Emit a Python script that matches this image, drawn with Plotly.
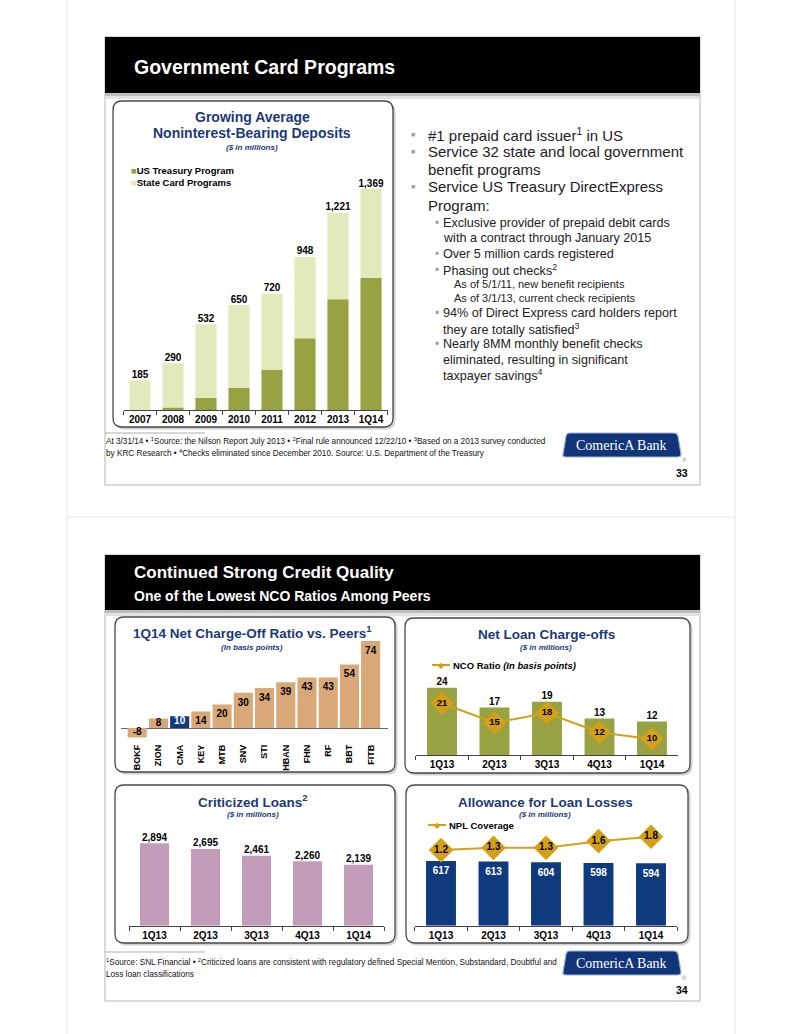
import plotly.graph_objects as go

W, H = 799, 1034
FONT = "Arial, 'Liberation Sans', Helvetica, sans-serif"
SERIF = "'Times New Roman', 'Liberation Serif', serif"
NAVY = "#0F3A7D"
TITLE = "#1B3A7A"
OLIVE = "#98A243"
PALE = "#E2E9BA"
TAN = "#D9A878"
MAUVE = "#C39CBA"
GOLD = "#D4A017"

# ---------------- data ----------------
dep_years = ["2007", "2008", "2009", "2010", "2011", "2012", "2013", "1Q14"]
dep_total = [185, 290, 532, 650, 720, 948, 1221, 1369]
dep_treasury = [0, 15, 76, 138, 248, 444, 686, 820]
dep_state = [185, 275, 456, 512, 472, 504, 535, 549]

peers = ["BOKF", "ZION", "CMA", "KEY", "MTB", "SNV", "STI", "HBAN", "FHN", "RF", "BBT", "FITB"]
peer_nco = [-8, 8, 10, 14, 20, 30, 34, 39, 43, 43, 54, 74]

quarters = ["1Q13", "2Q13", "3Q13", "4Q13", "1Q14"]
nco_dollars = [24, 17, 19, 13, 12]
nco_ratio = [21, 15, 18, 12, 10]
criticized = [2894, 2695, 2461, 2260, 2139]
allowance = [617, 613, 604, 598, 594]
npl_coverage = [1.2, 1.3, 1.3, 1.6, 1.8]


def X(px):
    return px / W


def Y(py):
    return 1 - py / H


shapes = []
annotations = []


def rect(x0, y0, x1, y1, fill, line=None, lw=0, layer="below"):
    shapes.append(dict(type="rect", xref="paper", yref="paper", x0=X(x0), x1=X(x1),
                       y0=Y(y1), y1=Y(y0), fillcolor=fill,
                       line=dict(color=line or fill, width=lw), layer=layer))


def hline(x0, y0, x1, y1, color, w=1, layer="below"):
    shapes.append(dict(type="line", xref="paper", yref="paper", x0=X(x0), x1=X(x1),
                       y0=Y(y0), y1=Y(y1), line=dict(color=color, width=w), layer=layer))


def rrect(x0, y0, x1, y1, r, fill, line, lw, layer="below"):
    def p(x, y):
        return f"{X(x):.5f},{Y(y):.5f}"
    path = (f"M {p(x0 + r, y0)} L {p(x1 - r, y0)} Q {p(x1, y0)} {p(x1, y0 + r)} "
            f"L {p(x1, y1 - r)} Q {p(x1, y1)} {p(x1 - r, y1)} L {p(x0 + r, y1)} "
            f"Q {p(x0, y1)} {p(x0, y1 - r)} L {p(x0, y0 + r)} Q {p(x0, y0)} {p(x0 + r, y0)} Z")
    shapes.append(dict(type="path", xref="paper", yref="paper", path=path, fillcolor=fill,
                       line=dict(color=line, width=lw), layer=layer))


def text(x, y, s, size, color="#000", weight="normal", style="normal", xanchor="left", family=FONT):
    annotations.append(dict(xref="paper", yref="paper", x=X(x), y=Y(y), text=s, showarrow=False,
                            xanchor=xanchor, yanchor="middle", borderpad=0,
                            font=dict(family=family, size=size, color=color, weight=weight, style=style)))


def panel(x0, y0, x1, y1):
    rrect(x0 + 2, y0 + 2, x1 + 2, y1 + 2, 9, "#d0d0d0", "#d0d0d0", 1)
    rrect(x0, y0, x1, y1, 9, "white", "#4a4a4a", 1.3)


def logo(y0, y1, num_y, num):
    path = (f"M {X(569):.5f},{Y(y0):.5f} L {X(674):.5f},{Y(y0):.5f} "
            f"Q {X(677):.5f},{Y(y0):.5f} {X(678):.5f},{Y(y0 + 3):.5f} L {X(681):.5f},{Y(y1 - 3):.5f} "
            f"Q {X(681):.5f},{Y(y1):.5f} {X(678):.5f},{Y(y1):.5f} L {X(566):.5f},{Y(y1):.5f} "
            f"Q {X(562):.5f},{Y(y1):.5f} {X(563):.5f},{Y(y1 - 3):.5f} L {X(566):.5f},{Y(y0 + 3):.5f} "
            f"Q {X(567):.5f},{Y(y0):.5f} {X(569):.5f},{Y(y0):.5f} Z")
    shapes.append(dict(type="path", xref="paper", yref="paper", path=path, fillcolor="#12357A",
                       line=dict(color="#9db3d8", width=1.2), layer="above"))
    text(621, (y0 + y1) / 2, "ComericA Bank", 14, "white", family=SERIF, xanchor="center")
    text(684, y1 + 3, "®", 6, "#888", xanchor="center")
    text(689, num_y, num, 10.5, "#000", weight="bold", xanchor="right")


# ---------------- page / slide backgrounds ----------------
hline(67, 0, 67, 1034, "#e4e4e4", 1)
hline(735, 0, 735, 1034, "#e4e4e4", 1)
hline(67, 517, 735, 517, "#e4e4e4", 1)

for (top, bot) in [(37, 485), (555, 1001)]:
    rect(105, top, 700, bot, "white", "#b5b5b5", 1)
hdr = [(37, 93), (555, 610)]
for (t, b) in hdr:
    rect(105, t, 700, b, "black")
    rect(105, b, 700, b + 3, "#bdbdbd")
    rect(105, b + 3, 700, b + 6, "#e2e2e2")

panel(113, 101, 393, 427)
panel(115, 617, 395, 772)
panel(405, 618, 690, 773)
panel(115, 785, 395, 943)
panel(406, 785, 688, 943)

hline(105, 433, 205, 433, "#999", 0.8)
hline(105, 952, 205, 952, "#999", 0.8)

# ---------------- texts ----------------
text(133, 67, "Government Card Programs", 19.5, "white", weight="bold")
text(133, 572, "Continued Strong Credit Quality", 17, "white", weight="bold")
text(133, 596, "One of the Lowest NCO Ratios Among Peers", 14, "white", weight="bold")

# chart 1 titles and legend
text(252, 117, "Growing Average", 14, TITLE, weight="bold", xanchor="center")
text(252, 133, "Noninterest-Bearing Deposits", 14, TITLE, weight="bold", xanchor="center")
text(252, 148, "($ in millions)", 8, TITLE, weight="bold", style="italic", xanchor="center")
text(130, 170, f"<span style='color:{OLIVE}'>■</span>US Treasury Program", 9.5, "#000", weight="bold")
text(130, 182, f"<span style='color:{PALE}'>■</span>State Card Programs", 9.5, "#000", weight="bold")

# bullets
BUL = "#222"
main_lines = [(135, "#1 prepaid card issuer<sup>1</sup> in US", True),
              (152, "Service 32 state and local government", True),
              (169, "benefit programs", False),
              (187, "Service US Treasury DirectExpress", True),
              (205, "Program:", False)]
for y, s, b in main_lines:
    if b:
        text(413, y, "■", 7, "#a0a0a0", xanchor="center")
    text(427, y, s, 15, BUL)
sub_lines = [(223, "Exclusive provider of prepaid debit cards", True),
             (238, "with a contract through January 2015", False),
             (254, "Over 5 million cards registered", True),
             (270, "Phasing out checks<sup>2</sup>", True),
             (313, "94% of Direct Express card holders report", True),
             (329, "they are totally satisfied<sup>3</sup>", False),
             (344, "Nearly 8MM monthly benefit checks", True),
             (360, "eliminated, resulting in significant", False),
             (375, "taxpayer savings<sup>4</sup>", False)]
for y, s, b in sub_lines:
    if b:
        text(437, y, "•", 12, "#a0a0a0", xanchor="center")
    text(442, y, s, 12.6, BUL)
text(453, 284, "As of 5/1/11, new benefit recipients", 11, BUL)
text(453, 298, "As of 3/1/13, current check recipients", 11, BUL)

# footnotes
FN = 8.2
text(105, 441, "At 3/31/14 • <sup>1</sup>Source: the Nilson Report July 2013 • <sup>2</sup>Final rule announced 12/22/10 • "
     "<sup>3</sup>Based on a 2013 survey conducted", FN, "#111")
text(105, 453, "by KRC Research • <sup>4</sup>Checks eliminated since December 2010. Source: U.S. Department of the Treasury",
     FN, "#111")
text(105, 962, "<sup>1</sup>Source: SNL Financial • <sup>2</sup>Criticized loans are consistent with regulatory defined "
     "Special Mention, Substandard, Doubtful and", FN, "#111")
text(105, 974, "Loss loan classifications", FN, "#111")
logo(433, 457, 473, "33")
logo(951, 975, 990, "34")

# panel titles
text(252, 632, "1Q14 Net Charge-Off Ratio vs. Peers<sup>1</sup>", 13.5, TITLE, weight="bold", xanchor="center")
text(252, 647, "(In basis points)", 8, TITLE, weight="bold", style="italic", xanchor="center")
text(546, 634, "Net Loan Charge-offs", 13.5, TITLE, weight="bold", xanchor="center")
text(546, 647, "($ in millions)", 8, TITLE, weight="bold", style="italic", xanchor="center")
text(253, 801, "Criticized Loans<sup>2</sup>", 13.5, TITLE, weight="bold", xanchor="center")
text(253, 814, "($ in millions)", 8, TITLE, weight="bold", style="italic", xanchor="center")
text(545, 802, "Allowance for Loan Losses", 13.5, TITLE, weight="bold", xanchor="center")
text(545, 814, "($ in millions)", 8, TITLE, weight="bold", style="italic", xanchor="center")

# manual legends for line series
hline(432, 665, 450, 665, GOLD, 2, layer="above")
text(441, 665, "◆", 8, GOLD, xanchor="center")
text(452, 665, "NCO Ratio <i>(In basis points)</i>", 9.5, "#000", weight="bold")
hline(428, 825, 446, 825, GOLD, 2, layer="above")
text(437, 825, "◆", 8, GOLD, xanchor="center")
text(448, 825, "NPL Coverage", 9.5, "#000", weight="bold")

# ---------------- traces ----------------
LBL = dict(family=FONT, size=10, color="#000", weight="bold")
fig = go.Figure()

# chart 1: stacked deposits
fig.add_trace(go.Bar(x=dep_years, y=dep_treasury, marker=dict(color=OLIVE, line=dict(width=0)),
                     width=0.64, xaxis="x", yaxis="y", showlegend=False, hoverinfo="skip"))
fig.add_trace(go.Bar(x=dep_years, y=dep_state, base=dep_treasury, marker=dict(color=PALE, line=dict(width=0)),
                     width=0.64, xaxis="x", yaxis="y", showlegend=False, hoverinfo="skip"))
fig.add_trace(go.Scatter(x=dep_years, y=dep_total, mode="text", text=[f"{v:,}" for v in dep_total],
                         textposition="top center", textfont=LBL, xaxis="x", yaxis="y",
                         showlegend=False, cliponaxis=False, hoverinfo="skip"))

# chart 2: peers NCO
fig.add_trace(go.Bar(x=peers, y=peer_nco, marker=dict(color=[NAVY if p == "CMA" else TAN for p in peers],
                                                      line=dict(width=0)),
                     width=0.9, xaxis="x2", yaxis="y2", showlegend=False, hoverinfo="skip"))
fig.add_trace(go.Scatter(x=peers, y=peer_nco, mode="markers+text", text=[str(v) for v in peer_nco],
                         marker=dict(size=[7 if v > 12 else 0 for v in peer_nco], opacity=0),
                         textposition=["bottom center" if v > 0 else "top center" for v in peer_nco],
                         textfont=dict(family=FONT, size=10, weight="bold",
                                       color=["white" if p == "CMA" else "#000" for p in peers]),
                         xaxis="x2", yaxis="y2", showlegend=False, cliponaxis=False, hoverinfo="skip"))

# chart 3: net loan charge-offs
fig.add_trace(go.Bar(x=quarters, y=nco_dollars, marker=dict(color=OLIVE, line=dict(width=0)),
                     width=0.57, xaxis="x3", yaxis="y3", showlegend=False, hoverinfo="skip"))
fig.add_trace(go.Scatter(x=quarters, y=nco_dollars, mode="text", text=[str(v) for v in nco_dollars],
                         textposition="top center", textfont=LBL, xaxis="x3", yaxis="y3",
                         showlegend=False, cliponaxis=False, hoverinfo="skip"))
fig.add_trace(go.Scatter(x=quarters, y=nco_ratio, mode="lines+markers+text", text=[str(v) for v in nco_ratio],
                         textposition="middle center", textfont=dict(family=FONT, size=9.5, color="#000", weight="bold"),
                         marker=dict(symbol="diamond", size=18, color=GOLD), line=dict(color=GOLD, width=2),
                         xaxis="x3", yaxis="y6", showlegend=False, cliponaxis=False, hoverinfo="skip"))

# chart 4: criticized loans
fig.add_trace(go.Bar(x=quarters, y=criticized, marker=dict(color=MAUVE, line=dict(width=0)),
                     width=0.57, xaxis="x4", yaxis="y4", showlegend=False, hoverinfo="skip"))
fig.add_trace(go.Scatter(x=quarters, y=criticized, mode="text", text=[f"{v:,}" for v in criticized],
                         textposition="top center", textfont=LBL, xaxis="x4", yaxis="y4",
                         showlegend=False, cliponaxis=False, hoverinfo="skip"))

# chart 5: allowance
fig.add_trace(go.Bar(x=quarters, y=allowance, marker=dict(color=NAVY, line=dict(width=0)),
                     width=0.57, xaxis="x5", yaxis="y5", showlegend=False, hoverinfo="skip"))
fig.add_trace(go.Scatter(x=quarters, y=allowance, mode="markers+text", text=[str(v) for v in allowance],
                         marker=dict(size=8, opacity=0),
                         textposition="bottom center", textfont=dict(family=FONT, size=10, color="white", weight="bold"),
                         xaxis="x5", yaxis="y5", showlegend=False, cliponaxis=False, hoverinfo="skip"))
fig.add_trace(go.Scatter(x=quarters, y=npl_coverage, mode="lines+markers+text", text=[f"{v:.1f}" for v in npl_coverage],
                         textposition="middle center", textfont=dict(family=FONT, size=10, color="#000", weight="bold"),
                         marker=dict(symbol="diamond", size=19, color=GOLD), line=dict(color=GOLD, width=2),
                         xaxis="x5", yaxis="y7", showlegend=False, cliponaxis=False, hoverinfo="skip"))

# ---------------- axes ----------------
def xax(x0, x1, anchor, **kw):
    d = dict(domain=[X(x0), X(x1)], anchor=anchor, type="category", showline=True, linecolor="#444",
             linewidth=1, ticks="outside", tickson="boundaries", ticklen=4, tickcolor="#444",
             tickangle=0,
             tickfont=dict(family=FONT, size=10, color="#000", weight="bold"), showgrid=False,
             zeroline=False, fixedrange=True)
    d.update(kw)
    return d


def yax(ybot, ytop, rng, anchor, **kw):
    d = dict(domain=[Y(ybot), Y(ytop)], range=rng, anchor=anchor, visible=False, fixedrange=True)
    d.update(kw)
    return d


fig.update_layout(
    width=W, height=H, margin=dict(l=0, r=0, t=0, b=0), autosize=False,
    paper_bgcolor="white", plot_bgcolor="rgba(0,0,0,0)", barmode="overlay",
    showlegend=False, shapes=shapes, annotations=annotations,
    font=dict(family=FONT),
    xaxis=xax(123.5, 387.5, "y"),
    yaxis=yax(410, 170, [0, 1487], "x"),
    xaxis2=xax(120.85, 388.4, "y2", showline=False, ticks="", tickangle=-90,
               tickfont=dict(family=FONT, size=9, color="#000", weight="bold")),
    yaxis2=yax(742, 635, [-11.9, 79.1], "x2", visible=True, showticklabels=False, showgrid=False,
               showline=False, ticks="", zeroline=True, zerolinecolor="#666", zerolinewidth=1),
    xaxis3=xax(415.75, 678.25, "y3"),
    yaxis3=yax(755, 660, [0, 33.93], "x3"),
    yaxis6=dict(overlaying="y3", anchor="x3", range=[5.08, 34.31], visible=False, fixedrange=True),
    xaxis4=xax(129, 384, "y4"),
    yaxis4=yax(925.7, 825, [0, 3537], "x4"),
    xaxis5=xax(414.75, 677.25, "y5"),
    yaxis5=yax(925.7, 830, [0, 912], "x5"),
    yaxis7=dict(overlaying="y5", anchor="x5", range=[-2.207, 2.104], visible=False, fixedrange=True),
)

fig.write_html("out.html", config={"displayModeBar": False},
               post_script="document.body.style.margin='0px';document.body.style.padding='0px';")
